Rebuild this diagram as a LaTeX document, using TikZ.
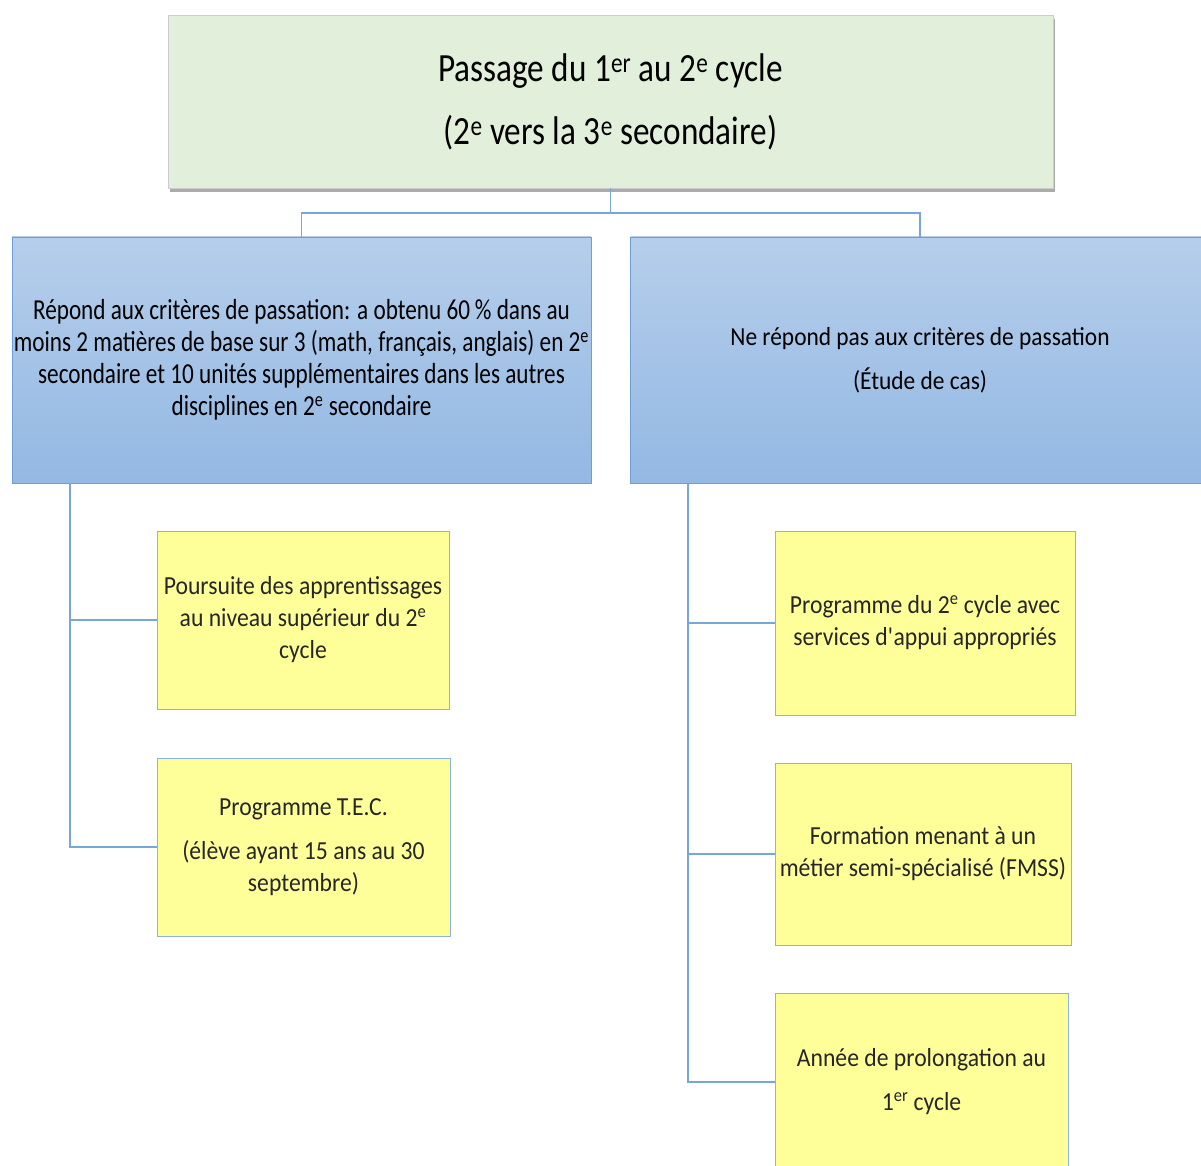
\documentclass[tikz,border=0pt]{standalone}
\usepackage{fontspec}
\setmainfont{Carlito}
\newfontfamily\topfont[FakeStretch=0.83]{Carlito}
\newfontfamily\leftfont[FakeStretch=0.80]{Carlito}
\newfontfamily\rightfont[FakeStretch=0.90]{Carlito}
\newfontfamily\yelfont[FakeStretch=0.91]{Carlito}
\usetikzlibrary{shadows}
\definecolor{topgreen}{RGB}{226,239,218}
\definecolor{bluetop}{RGB}{182,206,235}
\definecolor{bluebot}{RGB}{147,184,227}
\definecolor{blueline}{RGB}{110,158,214}
\definecolor{connline}{RGB}{120,165,218}
\definecolor{yel}{RGB}{255,255,153}
\definecolor{yelline}{RGB}{141,179,226}
\begin{document}
\begin{tikzpicture}[x=1pt,y=-1pt,
  topbox/.style={draw=gray!40, fill=topgreen, minimum width=885pt, minimum height=173pt, inner sep=0pt,
    drop shadow={shadow xshift=2pt, shadow yshift=-4pt, fill=black!55, opacity=0.6}, align=center,
    font=\topfont\fontsize{40}{63}\selectfont},
  bluebox/.style={draw=blueline, line width=0.8pt, top color=bluetop, bottom color=bluebot,
    minimum width=579pt, minimum height=246pt, inner sep=0pt, align=center},
  yelbox/.style={draw=yelline, line width=0.8pt, fill=yel, inner sep=0pt, align=center,
    font=\yelfont\fontsize{26}{32}\selectfont, text=black!85},
  conn/.style={draw=connline, line width=1.3pt}]
\clip (0,0) rectangle (1201,1166);
\useasboundingbox (0,0) rectangle (1201,1166);
\fill[white] (0,0) rectangle (1201,1166);

\node[topbox] (top) at (610.5,101.5) {Passage du 1\textsuperscript{er} au 2\textsuperscript{e} cycle\\(2\textsuperscript{e} vers la 3\textsuperscript{e} secondaire)};

\node[bluebox, font=\leftfont\fontsize{29}{32}\selectfont] (left) at (301.5,360) {Répond aux critères de passation: a obtenu 60\,\% dans au\\moins 2 matières de base sur 3 (math, français, anglais) en 2\textsuperscript{e}\\secondaire et 10 unités supplémentaires dans les autres\\disciplines en 2\textsuperscript{e} secondaire};

\node[bluebox, font=\rightfont\fontsize{26}{44}\selectfont] (right) at (920,360) {Ne répond pas aux critères de passation\\(Étude de cas)};

\node[yelbox, minimum width=292pt, minimum height=178pt] (y1) at (303,620) {Poursuite des apprentissages\\au niveau supérieur du 2\textsuperscript{e}\\cycle};
\node[yelbox, minimum width=293pt, minimum height=178pt] (y2) at (303.5,847) {Programme T.E.C.\\[12pt](élève ayant 15 ans au 30\\septembre)};
\node[yelbox, minimum width=300pt, minimum height=184pt] (y3) at (925,623) {Programme du 2\textsuperscript{e} cycle avec\\services d\textquotesingle appui appropriés};
\node[yelbox, minimum width=296pt, minimum height=182pt] (y4) at (923,854) {Formation menant à un\\métier semi-spécialisé (FMSS)};
\node[yelbox, minimum width=293pt, minimum height=178pt, font=\yelfont\fontsize{26}{44}\selectfont] (y5) at (921.5,1082) {Année de prolongation au\\1\textsuperscript{er} cycle};

\coordinate (hub) at (610.5,213);
\coordinate (lv) at (70,483);
\coordinate (rv) at (688,483);
\draw[conn] (top.south) -- (hub);
\draw[conn] (left.north) -- (left.north |- hub) -- (right.north |- hub) -- (right.north);
\draw[conn] (lv) -- (lv |- y2.west) -- (y2.west);
\draw[conn] (lv |- y1.west) -- (y1.west);
\draw[conn] (rv) -- (rv |- y5.west) -- (y5.west);
\draw[conn] (rv |- y3.west) -- (y3.west);
\draw[conn] (rv |- y4.west) -- (y4.west);
\end{tikzpicture}
\end{document}
